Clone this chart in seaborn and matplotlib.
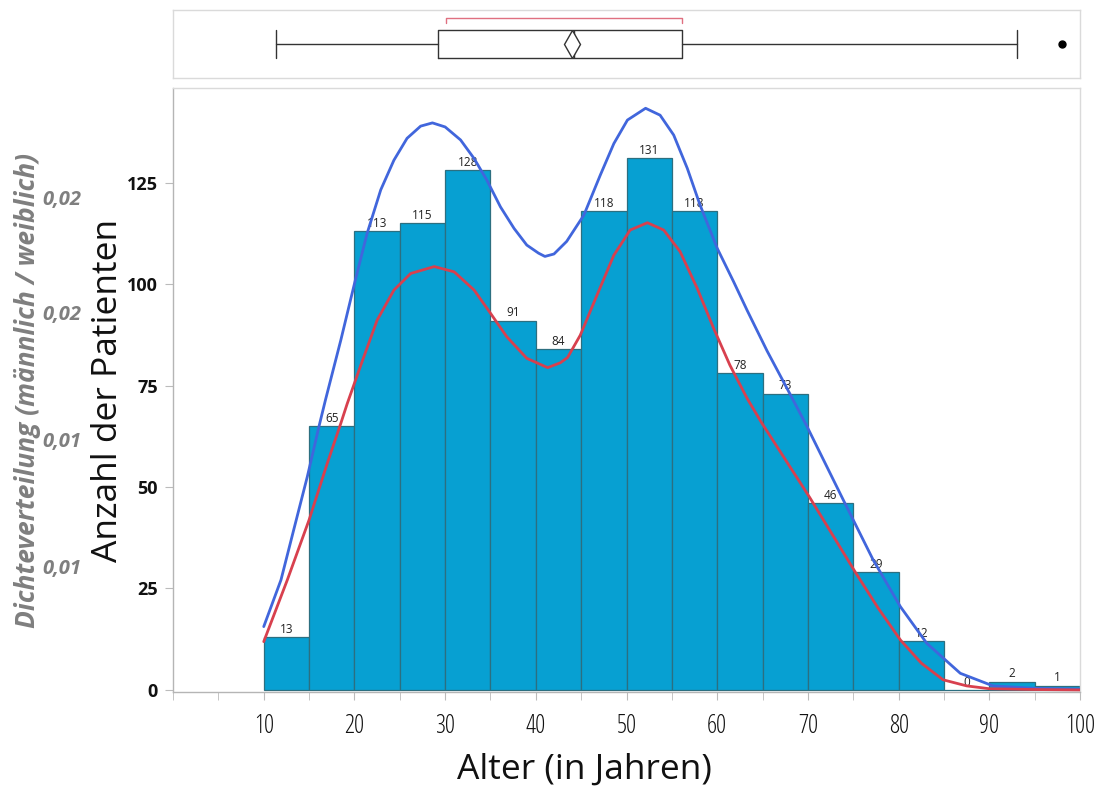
import numpy as np
import pandas as pd
import matplotlib
matplotlib.use("Agg")
import matplotlib.pyplot as plt
from matplotlib.ticker import MultipleLocator
import seaborn as sns

# ---------------- data ----------------
bin_edges = [10, 15, 20, 25, 30, 35, 40, 45, 50, 55, 60, 65, 70, 75, 80, 85, 90, 95, 100]
counts = [13, 65, 113, 115, 128, 91, 84, 118, 131, 118, 78, 73, 46, 29, 12, 0, 2, 1]
x_ticks = [10, 20, 30, 40, 50, 60, 70, 80, 90, 100]
x_tick_labels = ["10", "20", "30", "40", "50", "60", "70", "80", "90", "100"]
y_ticks = [0, 25, 50, 75, 100, 125]
density_tick_pos = [121.4, 93.1, 61.6, 30.3]
density_tick_labels = ["0,02", "0,02", "0,01", "0,01"]

blue_age = [10.0, 11.9, 13.3, 14.8, 16.1, 16.8, 18.5, 20.1, 21.4, 22.9, 24.35, 25.8, 27.3, 28.6,
            30.0, 31.7, 33.2, 34.6, 36.1, 37.6, 39.0, 40.3, 41.0, 42.0, 43.4, 45.3, 47.1, 48.6,
            50.1, 52.1, 53.7, 55.2, 56.7, 58.1, 60.0, 61.8, 63.3, 65.5, 68.0, 69.9, 73.9, 77.2,
            80.2, 83.1, 86.8, 90.4, 95.0, 100.0]
blue_count = [15.6, 27.1, 39.4, 52.5, 65.0, 71.4, 86.2, 101.0, 112.5, 123.2, 130.5, 135.9, 138.9, 139.7,
              138.7, 135.5, 130.9, 125.6, 119.0, 113.7, 109.6, 107.6, 106.8, 107.4, 110.5, 117.0, 126.8, 134.6,
              140.4, 143.3, 141.6, 136.7, 128.5, 119.5, 108.8, 100.6, 93.5, 83.5, 73.0, 64.9, 46.8, 32.0,
              20.5, 11.5, 4.1, 1.0, 0.4, 0.2]

red_age = [10.0, 12.6, 15.0, 17.0, 18.5, 19.2, 20.7, 22.5, 24.35, 26.2, 28.8, 31.0, 33.2, 35.0,
           36.8, 39.0, 41.3, 42.7, 43.5, 44.9, 46.75, 48.6, 50.4, 52.3, 54.1, 55.9, 57.8, 59.6,
           61.4, 63.3, 64.9, 70.2, 75.2, 77.7, 80.2, 82.5, 84.9, 87.5, 90.0, 95.0, 100.0]
red_count = [11.9, 27.1, 41.9, 55.8, 65.7, 70.5, 80.0, 91.1, 98.5, 102.6, 104.3, 103.0, 98.5, 92.8,
             87.0, 81.7, 79.4, 80.6, 81.9, 87.4, 97.3, 107.1, 113.3, 115.1, 113.3, 108.0, 98.9, 89.1,
             80.0, 71.8, 65.8, 47.4, 29.1, 20.3, 12.3, 6.6, 2.5, 1.0, 0.3, 0.1, 0.0]

box_whislo = 11.3
box_q1 = 29.2
box_median = 44.2
box_q3 = 56.1
box_whishi = 93.0
box_mean = 44.0
box_outliers = [98.0]
shortest_half = [30.1, 56.1]

# ---------------- style ----------------
sns.set_style("white")
plt.rcParams["font.family"] = ["Open Sans", "DejaVu Sans"]

BAR = "#07A0D2"
BAR_EDGE = "#2C6F80"
BLUE = "#4166DC"
RED = "#D8404E"

fig = plt.figure(figsize=(11.05, 7.94), dpi=100)
ax = fig.add_axes([0.1566, 0.1285, 0.8208, 0.7607])
ax_box = fig.add_axes([0.1566, 0.9018, 0.8208, 0.0856])

# histogram
centers = [(a + b) / 2 for a, b in zip(bin_edges[:-1], bin_edges[1:])]
df = pd.DataFrame({"alter": centers, "n": counts})
sns.histplot(data=df, x="alter", weights="n", bins=bin_edges, color=BAR, alpha=1.0,
             edgecolor=BAR_EDGE, linewidth=0.9, ax=ax, zorder=2)
ax.bar_label(ax.containers[0], labels=[str(c) for c in counts], fontsize=8.5,
             color="#222222", padding=1)

# density curves
sns.lineplot(x=blue_age, y=blue_count, sort=False, color=BLUE, linewidth=2.0, ax=ax, zorder=4)
sns.lineplot(x=red_age, y=red_count, sort=False, color=RED, linewidth=2.0, ax=ax, zorder=4)

ax.set_xlim(0, 100)
ax.set_ylim(-0.5, 148.3)
ax.set_xticks(x_ticks)
ax.set_xticklabels(x_tick_labels)
ax.xaxis.set_minor_locator(MultipleLocator(5))
ax.set_yticks(y_ticks)
ax.set_yticklabels([str(v) for v in y_ticks], fontweight="bold")
ax.tick_params(axis="x", which="both", direction="out", length=6, color="#BBBBBB",
               labelsize=18, pad=10, labelcolor="#111111", bottom=True)
ax.tick_params(axis="y", direction="out", length=6, color="#BBBBBB", labelsize=13,
               pad=5, labelcolor="#111111", left=True)
for lab in ax.get_xticklabels():
    lab.set_fontstretch("condensed")

for s in ["top", "right"]:
    ax.spines[s].set_color("#DADADA")
    ax.spines[s].set_linewidth(1.0)
for s in ["left", "bottom"]:
    ax.spines[s].set_color("#B5B5B5")
    ax.spines[s].set_linewidth(1.0)

ax.set_xlabel("Alter (in Jahren)", fontsize=25.5, color="#111111")
ax.xaxis.set_label_coords(0.454, -0.100)
ax.set_ylabel("Anzahl der Patienten", fontsize=25.5, color="#111111", labelpad=1)

# density axis on the left
ax_d = ax.twinx()
ax_d.set_ylim(ax.get_ylim())
ax_d.yaxis.set_ticks_position("left")
ax_d.yaxis.set_label_position("left")
ax_d.spines["left"].set_position(("outward", 66))
for s in ax_d.spines.values():
    s.set_visible(False)
ax_d.set_yticks(density_tick_pos)
ax_d.set_yticklabels(density_tick_labels, fontstyle="italic", fontweight="bold")
ax_d.tick_params(axis="y", length=0, pad=0, labelsize=14.5, labelcolor="#7F7F7F")
ax_d.set_ylabel("Dichteverteilung (männlich / weiblich)", fontsize=19, fontstyle="italic",
                fontweight="bold", color="#7F7F7F", labelpad=1)

# box plot
stats = [{"med": box_median, "q1": box_q1, "q3": box_q3, "whislo": box_whislo,
          "whishi": box_whishi, "mean": box_mean, "fliers": box_outliers}]
ax_box.bxp(stats, positions=[0.5], widths=0.41, capwidths=0.41, orientation="horizontal",
           showmeans=True, patch_artist=False,
           boxprops=dict(color="#333333", linewidth=1.0),
           whiskerprops=dict(color="#333333", linewidth=1.0),
           capprops=dict(color="#333333", linewidth=1.0),
           medianprops=dict(color="#333333", linewidth=1.0),
           meanprops=dict(marker="d", markerfacecolor="white", markeredgecolor="#333333",
                          markersize=14, markeredgewidth=1.0),
           flierprops=dict(marker="o", markerfacecolor="black", markeredgecolor="black",
                           markersize=5))
ax_box.plot([shortest_half[0], shortest_half[0], shortest_half[1], shortest_half[1]],
            [0.81, 0.88, 0.88, 0.81], color="#E07080", linewidth=1.0)
ax_box.set_xlim(0, 100)
ax_box.set_ylim(0, 1)
ax_box.set_xticks([])
ax_box.set_yticks([])
for s in ax_box.spines.values():
    s.set_color("#DADADA")
    s.set_linewidth(1.0)

fig.savefig("out.png", dpi=100)
